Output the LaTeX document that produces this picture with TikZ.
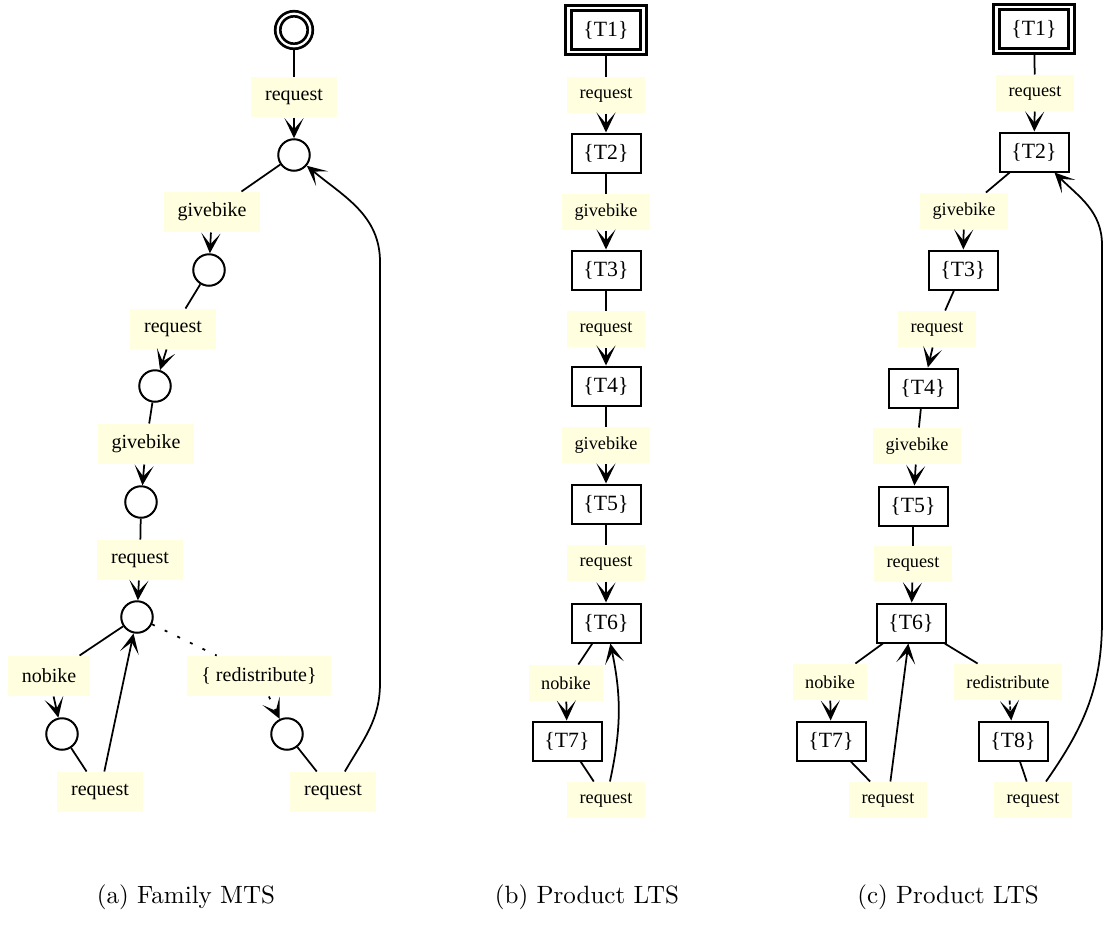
\documentclass[tikz,border=0pt]{standalone}
\usepackage{fontspec}
\newfontfamily\lblfont{Liberation Serif}
\usetikzlibrary{arrows.meta}
\definecolor{lyel}{HTML}{FFFFE0}
\begin{document}
\begin{tikzpicture}[x=0.4pt,y=-0.4pt,
  edge/.style={line width=0.7pt},
  arr/.style={edge,-{Stealth[length=8pt,width=7.6pt,inset=4.4pt]}},
  dotedge/.style={edge,dash pattern=on 1.2pt off 4.4pt},
  lblA/.style={fill=lyel,font=\lblfont\fontsize{8}{9.6}\selectfont,inner xsep=5.6pt,inner ysep=0pt,minimum height=16pt},
  lblB/.style={fill=lyel,font=\lblfont\fontsize{7.3}{8.8}\selectfont,inner xsep=5pt,inner ysep=0pt,minimum height=14.4pt},
  st/.style={circle,draw,line width=0.8pt,minimum size=12.6pt,inner sep=0pt},
  initc/.style={circle,draw,line width=1.1pt,double,double distance=0.9pt,minimum size=13pt,inner sep=0pt},
  tb/.style={rectangle,draw,line width=0.8pt,minimum width=27.6pt,minimum height=15.6pt,inner sep=0pt,font=\lblfont\fontsize{8.7}{10.4}\selectfont},
  initr/.style={rectangle,draw,line width=1.2pt,double,double distance=1pt,minimum width=30pt,minimum height=17.6pt,inner sep=0pt,font=\lblfont\fontsize{8.7}{10.4}\selectfont},
  captext/.style={font=\fontsize{10}{12}\selectfont,inner sep=0pt}
]
\useasboundingbox (0,0) rectangle (1105,927);

% ---------------- (a) Family MTS ----------------
\node[initc] (a0) at (294,30) {};
\node[lblA] (a1) at (294,97) {request};
\node[st] (s1) at (294,155) {};
\node[lblA] (a2) at (212,212) {givebike};
\node[st] (s2) at (209,270) {};
\node[lblA] (a3) at (173,329) {request};
\node[st] (s3) at (155,386) {};
\node[lblA] (a4) at (146,444) {givebike};
\node[st] (s4) at (141,502) {};
\node[lblA] (a5) at (140,560) {request};
\node[st] (s5) at (137,617) {};
\node[lblA] (a6) at (49,676) {nobike};
\node[st] (s6) at (62,734) {};
\node[lblA] (a7) at (100,792) {request};
\node[lblA] (a8) at (259,676) {\{ redistribute\}};
\node[st] (s7) at (287,734) {};
\node[lblA] (a9) at (333,792) {request};
\coordinate (ca1) at (380,683);
\coordinate (ca2) at (380,262);

\draw[edge] (a0) -- (a1);
\draw[arr] (a1) -- (s1);
\draw[edge] (s1) -- (a2);
\draw[arr] (a2) -- (s2);
\draw[edge] (s2) -- (a3);
\draw[arr] (a3) -- (s3);
\draw[edge] (s3) -- (a4);
\draw[arr] (a4) -- (s4);
\draw[edge] (s4) -- (a5);
\draw[arr] (a5) -- (s5);
\draw[edge] (s5) -- (a6);
\draw[arr] (a6) -- (s6);
\draw[edge] (s6) -- (a7);
\draw[arr] (a7) -- (s5);
\draw[dotedge] (s5) -- (a8);
\draw[arr,dotedge] (a8) -- (s7);
\draw[edge] (s7) -- (a9);
\draw[arr] (a9) to[out=60,in=-90] (ca1) -- (ca2) to[out=90,in=-40] (s1);

% ---------------- (b) Product LTS ----------------
\node[initr] (b1) at (606,30) {\{T1\}};
\node[lblB] (b1l) at (606,95) {request};
\node[tb] (b2) at (606,153) {\{T2\}};
\node[lblB] (b2l) at (606,212) {givebike};
\node[tb] (b3) at (606,270) {\{T3\}};
\node[lblB] (b3l) at (606,329) {request};
\node[tb] (b4) at (606,386) {\{T4\}};
\node[lblB] (b4l) at (606,445) {givebike};
\node[tb] (b5) at (606,504) {\{T5\}};
\node[lblB] (b5l) at (606,563) {request};
\node[tb] (b6) at (606,623) {\{T6\}};
\node[lblB] (b6l) at (566,683) {nobike};
\node[tb] (b7) at (567,741) {\{T7\}};
\node[lblB] (b7l) at (606,800) {request};

\draw[edge] (b1) -- (b1l);
\draw[arr] (b1l) -- (b2);
\draw[edge] (b2) -- (b2l);
\draw[arr] (b2l) -- (b3);
\draw[edge] (b3) -- (b3l);
\draw[arr] (b3l) -- (b4);
\draw[edge] (b4) -- (b4l);
\draw[arr] (b4l) -- (b5);
\draw[edge] (b5) -- (b5l);
\draw[arr] (b5l) -- (b6);
\draw[edge] (b6) -- (b6l);
\draw[arr] (b6l) -- (b7);
\draw[edge] (b7) -- (b7l);
\draw[arr] (b7l) to[bend right=12] (b6);

% ---------------- (c) Product LTS ----------------
\node[initr] (c1) at (1034,29) {\{T1\}};
\node[lblB] (c1l) at (1035,93) {request};
\node[tb] (c2) at (1034,152) {\{T2\}};
\node[lblB] (c2l) at (964,211) {givebike};
\node[tb] (c3) at (963,270) {\{T3\}};
\node[lblB] (c3l) at (937,329) {request};
\node[tb] (c4) at (923,388) {\{T4\}};
\node[lblB] (c4l) at (917,446) {givebike};
\node[tb] (c5) at (913,506) {\{T5\}};
\node[lblB] (c5l) at (913,564) {request};
\node[tb] (c6) at (911,623) {\{T6\}};
\node[lblB] (c6l) at (830,682) {nobike};
\node[tb] (c7) at (831,741) {\{T7\}};
\node[lblB] (c7l) at (888,800) {request};
\node[lblB] (c8l) at (1008,682) {redistribute};
\node[tb] (c8) at (1013,741) {\{T8\}};
\node[lblB] (c9l) at (1033,800) {request};
\coordinate (cc1) at (1102,620);
\coordinate (cc2) at (1102,245);

\draw[edge] (c1) -- (c1l);
\draw[arr] (c1l) -- (c2);
\draw[edge] (c2) -- (c2l);
\draw[arr] (c2l) -- (c3);
\draw[edge] (c3) -- (c3l);
\draw[arr] (c3l) -- (c4);
\draw[edge] (c4) -- (c4l);
\draw[arr] (c4l) -- (c5);
\draw[edge] (c5) -- (c5l);
\draw[arr] (c5l) -- (c6);
\draw[edge] (c6) -- (c6l);
\draw[arr] (c6l) -- (c7);
\draw[edge] (c7) -- (c7l);
\draw[arr] (c7l) -- (c6);
\draw[edge] (c6) -- (c8l);
\draw[arr,dash pattern=on 1.6pt off 0.8pt] (c8l) -- (c8);
\draw[edge] (c8) -- (c9l);
\draw[arr] (c9l) to[out=55,in=-90] (cc1) -- (cc2) to[out=90,in=-45] (c2);

% ---------------- captions ----------------
\node[captext] (capa) at (186,897) {(a) Family MTS};
\node[captext] (capb) at (587,897) {(b) Product LTS};
\node[captext] (capc) at (948,897) {(c) Product LTS};
\end{tikzpicture}
\end{document}
